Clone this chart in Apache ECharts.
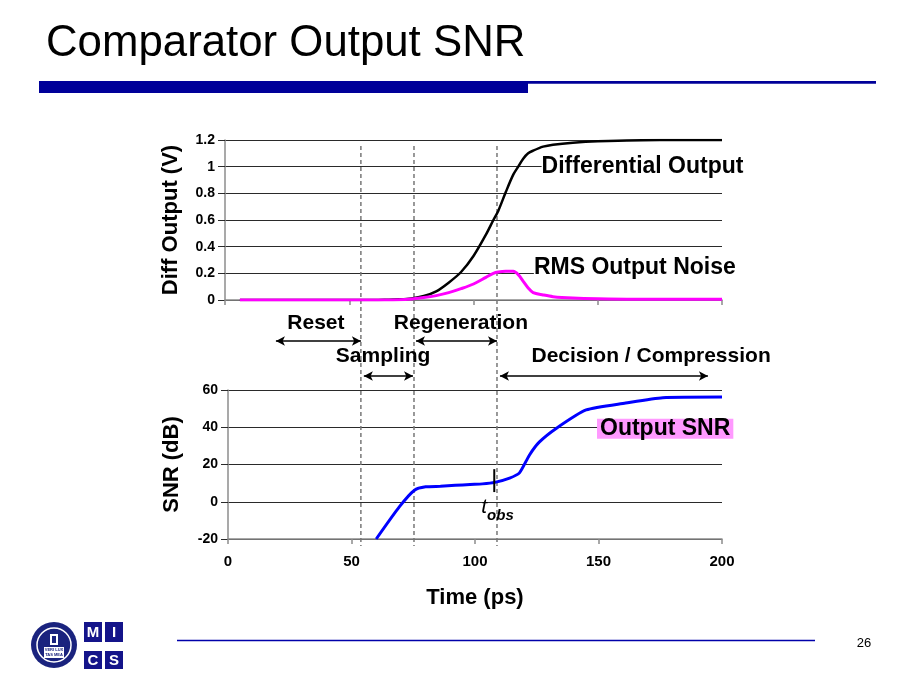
<!DOCTYPE html>
<html><head><meta charset="utf-8">
<script src="https://cdn.jsdelivr.net/npm/echarts@6/dist/echarts.min.js"></script>
<style>html,body{margin:0;padding:0;background:#fff}#c{width:902px;height:686px}</style>
</head><body><div id="c"></div>
<script>
const FONT = '"Liberation Sans", Arial, Helvetica, sans-serif';

// ---- data ----
const timeTop    = [6, 60, 65, 70, 75, 80, 85, 90, 95, 100, 105, 108, 110, 113, 116, 118, 120, 122, 124, 128, 132, 140, 150, 175, 200];
const diffOutput = [0, 0, 0.002, 0.005, 0.012, 0.03, 0.065, 0.13, 0.21, 0.33, 0.49, 0.6, 0.67, 0.81, 0.94, 1.0, 1.06, 1.1, 1.12, 1.15, 1.165, 1.18, 1.19, 1.2, 1.2];
const rmsNoise   = [0, 0, 0, 0.002, 0.008, 0.018, 0.033, 0.055, 0.085, 0.12, 0.17, 0.2, 0.21, 0.215, 0.215, 0.19, 0.14, 0.09, 0.055, 0.038, 0.025, 0.015, 0.01, 0.005, 0.005];

const timeSnr   = [60, 69.5, 75.5, 80, 86, 92, 98, 103, 108, 114, 118, 122, 126, 133, 145, 161, 176, 200];
const outputSnr = [-20, -2.5, 6.2, 8, 8.3, 8.8, 9.3, 9.6, 10.4, 12.7, 15.5, 25, 32, 39.5, 49.3, 53, 55.9, 56.2];

const phaseBounds   = [53.8, 75.3, 108.9];
const phaseNames    = ['Reset', 'Regeneration', 'Sampling', 'Decision / Compression'];
const phaseStart    = [19.4, 76.1, 55.0, 110.1];
const phaseEnd      = [53.8, 108.9, 74.9, 194.3];
const phaseLabelAt  = [35.6, 94.3, 62.8, 171.3];
const phaseRow      = [0, 0, 1, 1];

const tObs = 107.8;
const tObsSpan = [5.2, 17.5];

const pair = (xs, ys) => xs.map((x, i) => [x, ys[i]]);

const rowArrowY = [195, 230];
const rowLabelY = [177, 210];

const axisGray = '#8c8c8c';
const gridCol = '#2a2a2a';

const chart = echarts.init(document.getElementById('c'), null, {renderer: 'canvas'});

const plainLabel = {textBorderWidth: 0, textShadowBlur: 0, opacity: 1};

const series = [
  {
    name: 'Differential Output', type: 'line', xAxisIndex: 0, yAxisIndex: 0,
    data: pair(timeTop, diffOutput), showSymbol: false, smooth: 0.3,
    lineStyle: {color: '#000', width: 2.5}, z: 3,
    markPoint: {
      symbolSize: 0, silent: true,
      data: [{coord: [127.4, 1.0], name: 'Differential Output'}],
      label: Object.assign({show: true, position: 'right', distance: 0, formatter: '{b}',
        color: '#000', fontFamily: FONT, fontWeight: 'bold', fontSize: 23,
        backgroundColor: '#fff', padding: [2, 2, 2, 0]}, plainLabel)
    }
  },
  {
    name: 'RMS Output Noise', type: 'line', xAxisIndex: 0, yAxisIndex: 0,
    data: pair(timeTop, rmsNoise), showSymbol: false, smooth: 0.3,
    lineStyle: {color: '#ff00ff', width: 3}, z: 4,
    markPoint: {
      symbolSize: 0, silent: true,
      data: [{coord: [124.3, 0.24], name: 'RMS Output Noise'}],
      label: Object.assign({show: true, position: 'right', distance: 0, formatter: '{b}',
        color: '#000', fontFamily: FONT, fontWeight: 'bold', fontSize: 23,
        backgroundColor: '#fff', padding: [2, 2, 2, 0]}, plainLabel)
    }
  },
  {
    name: 'Output SNR', type: 'line', xAxisIndex: 1, yAxisIndex: 1,
    data: pair(timeSnr, outputSnr), showSymbol: false, smooth: 0.2,
    lineStyle: {color: '#0000ff', width: 3}, z: 3,
    markPoint: {
      symbolSize: 0, silent: true,
      data: [{coord: [149.4, 39.2], name: 'Output SNR'}],
      label: Object.assign({show: true, position: 'right', distance: 0, formatter: '{b}',
        color: '#000', fontFamily: FONT, fontWeight: 'bold', fontSize: 23,
        backgroundColor: '#ff99ff', padding: [0, 3, 0, 3], lineHeight: 20}, plainLabel)
    }
  },
  {
    name: 'tobs', type: 'line', xAxisIndex: 1, yAxisIndex: 1,
    data: [[tObs, tObsSpan[0]], [tObs, tObsSpan[1]]], showSymbol: false,
    lineStyle: {color: '#000', width: 2}, z: 5
  },
  {
    name: 'tobsLabel', type: 'scatter', xAxisIndex: 1, yAxisIndex: 1,
    symbolSize: 0, data: [{value: [tObs + 1.3, -4.5]}], z: 5,
    itemStyle: {color: '#000'},
    label: Object.assign({show: true, position: 'inside', formatter: '{a|t}{b|obs}', color: '#000',
      rich: {
        a: {fontFamily: FONT, fontStyle: 'italic', fontSize: 21, color: '#000', verticalAlign: 'top', lineHeight: 26},
        b: {fontFamily: FONT, fontStyle: 'italic', fontWeight: 'bold', fontSize: 15, color: '#000', verticalAlign: 'bottom', lineHeight: 26, padding: [8, 0, 0, 0]}
      }}, plainLabel)
  }
];

// dashed phase boundaries in overlay grid
phaseBounds.forEach(b => {
  series.push({
    type: 'line', xAxisIndex: 2, yAxisIndex: 2, data: [[b, 0], [b, 400]],
    showSymbol: false, lineStyle: {color: '#777', width: 1.5, type: [4, 3]}, z: 2, silent: true
  });
});

// phase labels and arrows
series.push({
  type: 'scatter', xAxisIndex: 2, yAxisIndex: 2, symbolSize: 0, z: 6,
  itemStyle: {color: '#000'},
  data: phaseNames.map((n, i) => ({name: n, value: [phaseLabelAt[i], rowLabelY[phaseRow[i]]]})),
  label: Object.assign({show: true, position: 'inside', formatter: '{b}', color: '#000',
    fontFamily: FONT, fontWeight: 'bold', fontSize: 21}, plainLabel),
  markLine: {
    silent: true, symbol: ['arrow', 'arrow'], symbolSize: [7, 9],
    lineStyle: {color: '#000', width: 1.5, type: 'solid'},
    label: {show: false},
    data: phaseNames.map((n, i) => [
      {coord: [phaseStart[i], rowArrowY[phaseRow[i]]]},
      {coord: [phaseEnd[i], rowArrowY[phaseRow[i]]]}
    ])
  }
});

const tickFont = {color: '#000', fontFamily: FONT, fontWeight: 'bold'};
const nameFont = {color: '#000', fontFamily: FONT, fontWeight: 'bold', fontSize: 22};

const option = {
  animation: false,
  backgroundColor: '#fff',
  grid: [
    {left: 225, top: 140, width: 497, height: 160},
    {left: 228, top: 390, width: 494, height: 149},
    {left: 228, top: 146, width: 494, height: 400}
  ],
  xAxis: [
    {gridIndex: 0, type: 'value', min: 0, max: 200, interval: 50,
      axisLine: {show: true, lineStyle: {color: axisGray, width: 1.5}},
      axisTick: {show: true, length: 5, lineStyle: {color: axisGray, width: 1.5}},
      axisLabel: {show: false}, splitLine: {show: false}},
    {gridIndex: 1, type: 'value', min: 0, max: 200, interval: 50,
      axisLine: {show: true, onZero: false, lineStyle: {color: axisGray, width: 1.5}},
      axisTick: {show: true, length: 5, lineStyle: {color: axisGray, width: 1.5}},
      axisLabel: Object.assign({fontSize: 15, margin: 15}, tickFont), splitLine: {show: false},
      name: 'Time (ps)', nameLocation: 'middle', nameGap: 48, nameTextStyle: nameFont},
    {gridIndex: 2, type: 'value', min: 0, max: 200, show: false}
  ],
  yAxis: [
    {gridIndex: 0, type: 'value', min: 0, max: 1.2, interval: 0.2,
      axisLine: {show: true, lineStyle: {color: axisGray, width: 1.5}},
      axisTick: {show: true, length: 7, lineStyle: {color: gridCol}},
      axisLabel: Object.assign({fontSize: 14, margin: 10}, tickFont),
      splitLine: {show: true, lineStyle: {color: gridCol, width: 1}},
      name: 'Diff Output (V)', nameLocation: 'middle', nameRotate: 90, nameGap: 43, nameTextStyle: nameFont},
    {gridIndex: 1, type: 'value', min: -20, max: 60, interval: 20,
      axisLine: {show: true, lineStyle: {color: axisGray, width: 1.5}},
      axisTick: {show: true, length: 7, lineStyle: {color: gridCol}},
      axisLabel: Object.assign({fontSize: 14, margin: 10}, tickFont),
      splitLine: {show: true, lineStyle: {color: gridCol, width: 1}},
      name: 'SNR (dB)', nameLocation: 'middle', nameRotate: 90, nameGap: 45, nameTextStyle: nameFont},
    {gridIndex: 2, type: 'value', min: 0, max: 400, inverse: true, show: false}
  ],
  series: series,
  graphic: [
    {type: 'text', x: 46, y: 44, scaleX: 0.973, scaleY: 1,
      style: {text: 'Comparator Output SNR', font: '45px ' + FONT, fill: '#000', verticalAlign: 'middle', align: 'left'}},
    {type: 'rect', shape: {x: 39, y: 81, width: 489, height: 12}, style: {fill: '#000099'}},
    {type: 'rect', shape: {x: 528, y: 81, width: 348, height: 2.7}, style: {fill: '#000099'}},
    {type: 'line', shape: {x1: 177, y1: 640.5, x2: 815, y2: 640.5}, style: {stroke: '#0000aa', lineWidth: 1.5}},
    {type: 'text', x: 864, y: 643, style: {text: '26', font: '13px ' + FONT, fill: '#000', align: 'center', verticalAlign: 'middle'}},
    // MICS boxes
    {type: 'group', children: [
      {type: 'rect', shape: {x: 84, y: 622, width: 18, height: 20}, style: {fill: '#14148a'}},
      {type: 'rect', shape: {x: 105, y: 622, width: 18, height: 20}, style: {fill: '#14148a'}},
      {type: 'rect', shape: {x: 84, y: 651, width: 18, height: 18}, style: {fill: '#14148a'}},
      {type: 'rect', shape: {x: 105, y: 651, width: 18, height: 18}, style: {fill: '#14148a'}},
      {type: 'text', x: 93, y: 632.5, style: {text: 'M', font: 'bold 15px ' + FONT, fill: '#fff', align: 'center', verticalAlign: 'middle'}},
      {type: 'text', x: 114, y: 632.5, style: {text: 'I', font: 'bold 15px ' + FONT, fill: '#fff', align: 'center', verticalAlign: 'middle'}},
      {type: 'text', x: 93, y: 660.5, style: {text: 'C', font: 'bold 15px ' + FONT, fill: '#fff', align: 'center', verticalAlign: 'middle'}},
      {type: 'text', x: 114, y: 660.5, style: {text: 'S', font: 'bold 15px ' + FONT, fill: '#fff', align: 'center', verticalAlign: 'middle'}}
    ]},
    // university emblem (approximation)
    {type: 'group', children: [
      {type: 'circle', shape: {cx: 54, cy: 645, r: 23}, style: {fill: '#1a237e'}},
      {type: 'circle', shape: {cx: 54, cy: 645, r: 17}, style: {fill: 'none', stroke: '#fff', lineWidth: 1.5}},
      {type: 'circle', shape: {cx: 54, cy: 645, r: 14}, style: {fill: '#1a237e'}},
      {type: 'rect', shape: {x: 44, y: 647, width: 20, height: 11}, style: {fill: '#fff'}},
      {type: 'text', x: 54, y: 650, style: {text: 'VERI LUX', font: 'bold 4px ' + FONT, fill: '#1a237e', align: 'center', verticalAlign: 'middle'}},
      {type: 'text', x: 54, y: 655, style: {text: 'TAS MEA', font: 'bold 4px ' + FONT, fill: '#1a237e', align: 'center', verticalAlign: 'middle'}},
      {type: 'rect', shape: {x: 50, y: 634, width: 8, height: 11}, style: {fill: '#fff'}},
      {type: 'rect', shape: {x: 52, y: 636, width: 4, height: 7}, style: {fill: '#1a237e'}}
    ]}
  ]
};
chart.setOption(option);
</script>
</body></html>
